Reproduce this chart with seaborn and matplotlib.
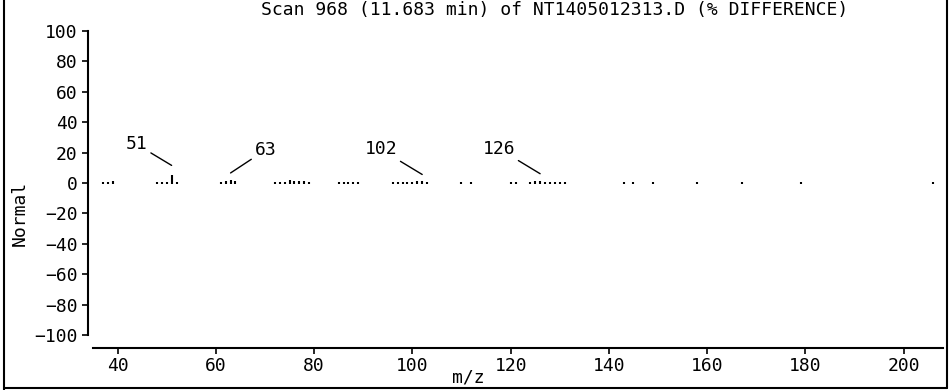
import matplotlib
matplotlib.use("Agg")
import matplotlib.pyplot as plt
from matplotlib.lines import Line2D
import seaborn as sns

# Difference spectrum: m/z and relative abundance difference (%)
mz = [37, 38, 39,
      48, 49, 50, 51, 52,
      61, 62, 63, 64,
      72, 73, 74, 75, 76, 77, 78, 79,
      85, 86, 87, 88, 89,
      96, 97, 98, 99, 100, 101, 102, 103,
      110, 112,
      120, 121, 124, 125, 126, 127, 128, 129, 130,
      131, 143, 145, 149, 158, 167, 179, 206]
diff = [0.5, 0.5, 1.2,
        0.5, 0.6, 0.8, 5.0, 0.8,
        0.5, 1.2, 2.0, 1.5,
        0.5, 0.5, 0.6, 2.0, 1.5, 1.5, 1.5, 0.6,
        0.6, 0.5, 0.5, 0.6, 0.5,
        0.5, 0.5, 0.5, 0.5, 0.8, 1.5, 1.0, 0.5,
        0.5, 0.5,
        0.5, 0.5, 0.5, 1.2, 1.5, 0.6, 0.5, 0.5, 0.5,
        0.5, 0.5, 0.5, 0.5, 0.5, 0.5, 0.5, 0.5]

labelled_mz = [51, 63, 102, 126]
# leader line: gap above the peak (px) and text offset from the line start (px)
label_gap = [10, 7, 7, 7]
label_dx = [-24, 24, -25, -25]
label_dy = [21, 23, 25, 25]

yticks = list(range(-100, 101, 20))
xticks = list(range(40, 201, 20))

title = "Scan 968 (11.683 min) of NT1405012313.D (% DIFFERENCE)"

sns.set_style("ticks")
plt.rcParams["font.family"] = ["DejaVu Sans Mono", "DejaVu Sans"]
plt.rcParams["axes.unicode_minus"] = True
for key in ("text.color", "axes.labelcolor", "xtick.color", "ytick.color"):
    plt.rcParams[key] = "black"

FS = 13
W, H = 950, 390
AX_TOP, AX_BOTTOM = 31, 335
fig = plt.figure(figsize=(W / 100, H / 100), dpi=100)
fig.patch.set_facecolor("white")

ax = fig.add_axes([93 / W, (H - AX_BOTTOM) / H, (943 - 93) / W,
                   (AX_BOTTOM - AX_TOP) / H])
ax.set_facecolor("white")

# stems: tiny values still show as a small dot on the baseline
lo = [-0.7] * len(mz)
hi = [max(v, 0.7) for v in diff]
ax.vlines(mz, lo, hi, color="black", linewidth=1.5)

ax.set_xlim(35, 208)
ax.set_ylim(-100, 100)
ax.set_xticks(xticks)
ax.set_yticks(yticks)
ax.set_yticklabels([str(t).replace("-", "\u2212") for t in yticks])

sns.despine(ax=ax, offset={"left": 3.6, "bottom": 9.5})
for s in ("left", "bottom"):
    ax.spines[s].set_linewidth(1.5)
    ax.spines[s].set_color("black")
ax.tick_params(direction="out", length=4.3, width=1.2, colors="black",
               labelsize=FS)
ax.tick_params(axis="y", pad=3)
ax.tick_params(axis="x", pad=2)
ax.set_xlabel("")
ax.set_ylabel("")

# px per data unit on the y axis, for placing leader lines just above peaks
px_per_unit = (AX_BOTTOM - AX_TOP) / 200.0

for m, gap, dx, dy in zip(labelled_mz, label_gap, label_dx, label_dy):
    v = diff[mz.index(m)]
    ax.annotate(str(m), xy=(m, v + gap / px_per_unit),
                xytext=(dx * 0.72, dy * 0.72),
                textcoords="offset points",
                ha="right" if dx < 0 else "left", va="center",
                fontsize=FS, color="black",
                arrowprops=dict(arrowstyle="-", color="black", lw=1.0,
                                shrinkA=0, shrinkB=0))

fig.text(555 / W, 1 - 10 / H, title, ha="center", va="center", fontsize=FS)
fig.text(20 / W, 1 - 213 / H, "Normal", rotation=90, ha="center", va="center",
         fontsize=FS)
fig.text(468 / W, 1 - 377 / H, "m/z", ha="center", va="center", fontsize=FS)

# frame around the figure
for xs, ys in (([4 / W, 4 / W], [0, 1]),
               ([4 / W, 947 / W], [2 / H, 2 / H]),
               ([947 / W, 947 / W], [2 / H, 1])):
    fig.add_artist(Line2D(xs, ys, color="black", linewidth=1.5,
                          transform=fig.transFigure))

fig.savefig("out.png", dpi=100, facecolor="white")
